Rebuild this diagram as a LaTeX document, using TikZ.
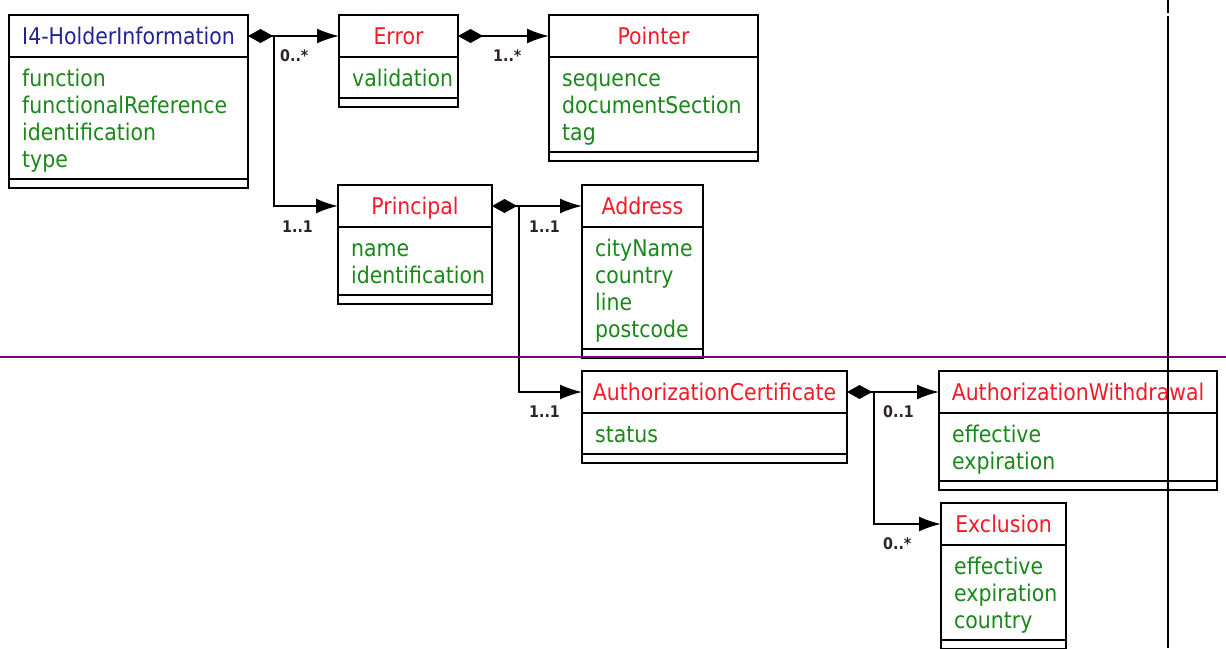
\documentclass[tikz,border=0pt]{standalone}
\usepackage{fontspec}
\usetikzlibrary{arrows.meta}
\newfontfamily\umlfont[FakeStretch=0.89]{DejaVu Sans}
\definecolor{clsred}{RGB}{245,25,40}
\definecolor{clsblue}{RGB}{35,35,150}
\definecolor{attrgreen}{RGB}{25,135,25}
\definecolor{multdark}{RGB}{45,35,40}
\definecolor{splitpurple}{RGB}{128,0,128}

\begin{document}
\begin{tikzpicture}[
    x=1pt,y=-1pt,
    box/.style={line width=1.8pt},
    head/.style={inner sep=0pt,outer sep=0pt,minimum height=42pt,
        text height=17pt,text depth=1pt,text=clsred,
        font=\umlfont\fontsize{23}{27}\selectfont},
    attr/.style={anchor=base west,inner sep=0pt,text=attrgreen,
        font=\umlfont\fontsize{23}{27}\selectfont},
    mult/.style={anchor=base west,inner sep=0pt,text=multdark,
        font=\umlfont\bfseries\fontsize{16}{16}\selectfont},
    link/.style={line width=1.8pt,-{Latex[length=22pt,width=15pt]}},
    owns/.style={link,{Diamond[length=25pt,width=14pt]}-{Latex[length=22pt,width=15pt]}}]
    \useasboundingbox (0,0) rectangle (1226,648);

    % class box: name, left, right, top, title style, title, attributes
    \def\umlclass#1#2#3#4#5#6#7{
        \node[head,#5,minimum width={#3pt-#2pt}] (#1) at ({(#2+#3)/2},#4+21) {#6};
        \foreach \attrname [count=\i from 0] in {#7} {
            \node[attr] at (#2+13,#4+71+27*\i) {\attrname};
            \xdef\nattr{\i}
        }
        \pgfmathsetmacro\sepy{#4+83+27*\nattr}
        \draw[box] (#2,#4) rectangle (#3,\sepy+9);
        \draw[box] (#2,#4+42) -- (#3,#4+42);
        \draw[box] (#2,\sepy) -- (#3,\sepy);
    }

    \umlclass{holder}{9}{248}{15}{text=clsblue}{I4-HolderInformation}
        {function,functionalReference,identification,type}
    \umlclass{error}{339}{458}{15}{}{Error}{validation}
    \umlclass{pointer}{549}{758}{15}{}{Pointer}{sequence,documentSection,tag}
    \umlclass{principal}{338}{492}{185}{}{Principal}{name,identification}
    \umlclass{address}{582}{703}{185}{}{Address}{cityName,country,line,postcode}
    \umlclass{authcert}{582}{847}{371}{}{AuthorizationCertificate}{status}
    \umlclass{withdrawal}{939}{1217}{371}{}{AuthorizationWithdrawal}{effective,expiration}
    \umlclass{exclusion}{941}{1066}{503}{}{Exclusion}{effective,expiration,country}

    % associations
    \coordinate (holderfork) at (274,36);
    \coordinate (principalfork) at (519,206);
    \coordinate (certfork) at (874,392);
    \draw[owns] (holder.east) -- (error.west);
    \draw[link] (holderfork) |- (principal.west);
    \draw[owns] (error.east) -- (pointer.west);
    \draw[owns] (principal.east) -- (address.west);
    \draw[link] (principalfork) |- (authcert.west);
    \draw[owns] (authcert.east) -- (withdrawal.west);
    \draw[link] (certfork) |- (exclusion.west);

    \node[mult] (errormult) at (280,61) {0..*};
    \node[mult] (principalmult) at (282,232) {1..1};
    \node[mult] (pointermult) at (493,61) {1..*};
    \node[mult] (addressmult) at (529,232) {1..1};
    \node[mult] (certmult) at (529,417) {1..1};
    \node[mult] (withdrawalmult) at (883,417) {0..1};
    \node[mult] (exclusionmult) at (883,549) {0..*};

    % page lines
    \draw[splitpurple,line width=2pt] (0,357) -- (1226,357);
    \draw[line width=2pt] (1168,0) -- (1168,13) (1168,16) -- (1168,648);
\end{tikzpicture}
\end{document}
